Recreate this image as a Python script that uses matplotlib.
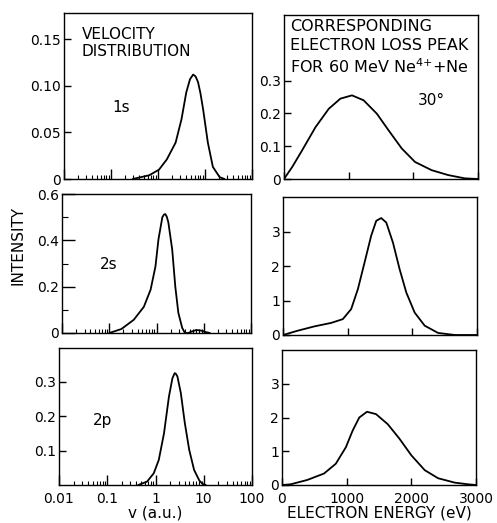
import matplotlib
matplotlib.use("Agg")
import matplotlib.pyplot as plt

plt.rcParams["font.family"] = "DejaVu Sans"

W, H = 497, 523

# velocity distributions (v in a.u.)
v_1s = [0.29, 0.65, 1.05, 1.54, 2.37, 3.16, 4.0, 4.8, 5.6, 6.3, 7.1, 8.0, 9.1, 11.5, 14.7, 20.5, 26]
i_1s = [0.0, 0.004, 0.010, 0.021, 0.039, 0.064, 0.093, 0.107, 0.112, 0.110, 0.104, 0.092, 0.075,
        0.039, 0.013, 0.002, 0.0]

v_2s = [0.1, 0.18, 0.33, 0.54, 0.75, 0.95, 1.1, 1.33, 1.45, 1.54, 1.65, 1.78, 2.15, 2.5, 2.9, 3.5, 4.0,
        4.7, 5.5, 7.0, 9.0, 11.0, 13.5]
i_2s = [0.0, 0.017, 0.057, 0.113, 0.187, 0.287, 0.404, 0.50, 0.512, 0.513, 0.502, 0.478, 0.36, 0.20,
        0.087, 0.022, 0.0, 0.0, 0.006, 0.013, 0.010, 0.004, 0.0]

v_2p = [0.44, 0.67, 0.92, 1.17, 1.5, 1.9, 2.24, 2.5, 2.65, 2.85, 3.35, 4.05, 5.0, 6.3, 8.1, 9.5, 11.0]
i_2p = [0.0, 0.010, 0.034, 0.073, 0.150, 0.257, 0.310, 0.325, 0.323, 0.315, 0.267, 0.180, 0.102,
        0.044, 0.013, 0.003, 0.0]

# electron loss peaks (energy in eV)
e_1s = [0, 128, 282, 487, 692, 872, 1051, 1231, 1436, 1615, 1821, 2026, 2282, 2538, 2795, 3000]
p_1s = [0.0, 0.037, 0.088, 0.158, 0.214, 0.245, 0.255, 0.240, 0.199, 0.149, 0.093, 0.052, 0.027,
        0.012, 0.002, 0.0]

e_2s = [0, 228, 486, 744, 925, 1054, 1158, 1261, 1364, 1442, 1519, 1597, 1700, 1803, 1907, 2036,
        2191, 2398, 2656, 3000]
p_2s = [0.0, 0.125, 0.25, 0.35, 0.46, 0.75, 1.33, 2.1, 2.88, 3.31, 3.39, 3.26, 2.68, 1.91, 1.23,
        0.65, 0.27, 0.06, 0.0, 0.0]

e_2p = [0, 132, 392, 650, 832, 988, 1092, 1195, 1314, 1454, 1636, 1817, 2000, 2207, 2414, 2672,
        2880, 3000]
p_2p = [0.0, 0.02, 0.15, 0.34, 0.63, 1.12, 1.61, 2.0, 2.17, 2.1, 1.8, 1.37, 0.88, 0.44, 0.2, 0.07,
        0.02, 0.0]

v_ticks = [0.01, 0.1, 1, 10, 100]
v_labels = ["0.01", "0.1", "1", "10", "100"]
e_ticks = [0, 1000, 2000, 3000]
e_labels = ["0", "1000", "2000", "3000"]

y_1s = [0, 0.05, 0.10, 0.15]
y_1s_lab = ["0", "0.05", "0.10", "0.15"]
y_2s = [0, 0.2, 0.4, 0.6]
y_2s_lab = ["0", "0.2", "0.4", "0.6"]
y_2p = [0.1, 0.2, 0.3]
y_2p_lab = ["0.1", "0.2", "0.3"]
y_e1 = [0, 0.1, 0.2, 0.3]
y_e1_lab = ["0", "0.1", "0.2", "0.3"]
y_e = [0, 1, 2, 3]
y_e_lab = ["0", "1", "2", "3"]


def box(x0, y0, x1, y1):
    # pixel box (top-left origin) -> figure fraction
    return [x0 / W, 1 - y1 / H, (x1 - x0) / W, (y1 - y0) / H]


fig = plt.figure(figsize=(W / 100, H / 100), dpi=100)


def style(ax, major=5):
    for s in ax.spines.values():
        s.set_linewidth(1.0)
    ax.tick_params(direction="in", which="major", length=major, width=1.0, labelsize=10, pad=2)
    ax.tick_params(direction="in", which="minor", length=3, width=0.8)
    ax.tick_params(axis="x", pad=5)


def curve(ax, x, y):
    ax.plot(x, y, color="black", lw=1.3, solid_joinstyle="round", solid_capstyle="round")


def vel_panel(rect, v, i, ylim, yt, ytl, labels=False):
    ax = fig.add_axes(box(*rect))
    curve(ax, v, i)
    ax.set_xscale("log")
    ax.set_xlim(0.01, 100)
    ax.set_ylim(*ylim)
    ax.set_xticks(v_ticks)
    ax.set_xticklabels(v_labels if labels else [])
    ax.set_yticks(yt)
    ax.set_yticklabels(ytl)
    style(ax)
    ax.tick_params(axis="x", which="major", length=7)
    return ax


def energy_panel(rect, e, p, ylim, yt, ytl, labels=False):
    ax = fig.add_axes(box(*rect))
    curve(ax, e, p)
    ax.set_xlim(0, 3000)
    ax.set_ylim(*ylim)
    ax.set_xticks(e_ticks)
    ax.set_xticklabels(e_labels if labels else [])
    ax.set_yticks(yt)
    ax.set_yticklabels(ytl)
    style(ax)
    return ax


ax1 = vel_panel((64, 13, 252, 179), v_1s, i_1s, (0, 0.178), y_1s, y_1s_lab)
ax1.text(0.095, 0.915, "VELOCITY\nDISTRIBUTION", transform=ax1.transAxes,
         ha="left", va="top", fontsize=11, linespacing=1.15)
ax1.text(0.255, 0.43, "1s", transform=ax1.transAxes, ha="left", va="center", fontsize=11)

ax2 = vel_panel((62, 194, 251, 333), v_2s, i_2s, (0, 0.6), y_2s, y_2s_lab)
ax2.set_yticks([0.1, 0.3, 0.5], minor=True)
ax2.tick_params(axis="y", which="major", length=9)
ax2.tick_params(axis="y", which="minor", length=4)
ax2.text(0.2, 0.49, "2s", transform=ax2.transAxes, ha="left", va="center", fontsize=11)

ax3 = vel_panel((59, 348, 252, 485), v_2p, i_2p, (0, 0.398), y_2p, y_2p_lab, labels=True)
ax3.text(0.176, 0.47, "2p", transform=ax3.transAxes, ha="left", va="center", fontsize=11)
ax3.set_xlabel("v (a.u.)", fontsize=11, labelpad=0)

ax4 = energy_panel((284, 15, 478, 179), e_1s, p_1s, (0, 0.5), y_e1, y_e1_lab)
ax4.text(0.03, 0.975, "CORRESPONDING\nELECTRON LOSS PEAK\nFOR 60 MeV Ne$^{4{+}}$+Ne",
         transform=ax4.transAxes, ha="left", va="top", fontsize=11.5, linespacing=1.3)
ax4.text(0.69, 0.48, "30°", transform=ax4.transAxes, ha="left", va="center", fontsize=11)

ax5 = energy_panel((283, 197, 477, 335), e_2s, p_2s, (0, 4), y_e, y_e_lab)
ax6 = energy_panel((282, 350, 476, 485), e_2p, p_2p, (0, 4), y_e, y_e_lab, labels=True)
ax6.set_xlabel("ELECTRON ENERGY (eV)", fontsize=11, labelpad=0)

fig.text(18 / W, 1 - 245 / H, "INTENSITY", rotation=90, ha="center", va="center", fontsize=11)

fig.savefig("out.png", dpi=100)
